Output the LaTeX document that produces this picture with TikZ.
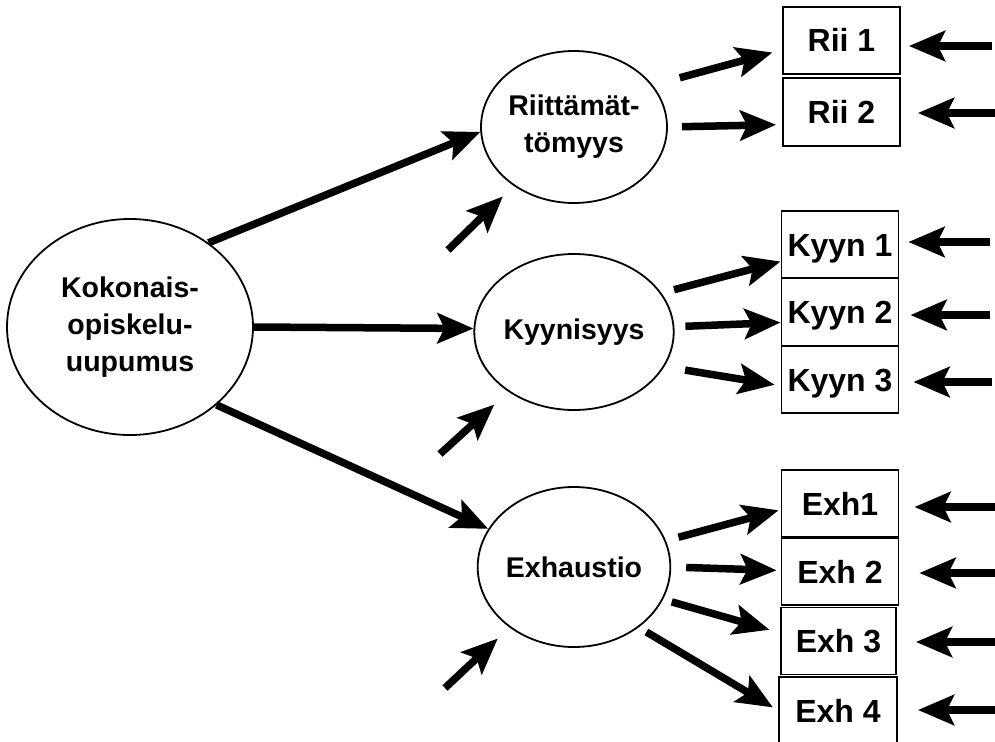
\documentclass[tikz,border=0pt]{standalone}
\usepackage{fontspec}
\setmainfont{Liberation Sans}
\usetikzlibrary{shapes.geometric,arrows.meta}

\tikzset{
  latent/.style={ellipse, draw, line width=1.8pt, inner sep=0pt, align=center,
    font=\bfseries\fontsize{28.5}{37}\selectfont},
  indicator/.style={rectangle, draw, line width=1.8pt, inner sep=0pt,
    minimum width=117pt, minimum height=67pt, text height=23pt, text depth=0pt,
    font=\bfseries\fontsize{32}{36}\selectfont},
  link/.style={line width=7.5pt, arrows={-Stealth[length=36pt 0, width=30pt 0, inset=7pt 0]}},
}

\begin{document}
\begin{tikzpicture}[x=1pt,y=-1pt]
  \useasboundingbox (0,0) rectangle (995,741);

  % latent factors
  \node[latent, minimum width=246pt, minimum height=216pt] (tot) at (130,327) {Kokonais-\\opiskelu-\\uupumus};
  \node[latent, minimum width=186pt, minimum height=152pt] (rii) at (574,127) {Riittämät-\\tömyys};
  \node[latent, minimum width=186pt, minimum height=156pt] (kyy) at (574,332) {Kyynisyys};
  \node[latent, minimum width=186pt, minimum height=160pt] (exh) at (574,567) {Exhaustio};

  % observed indicators
  \node[indicator] (rii1) at (841.5,40.5) {Rii 1};
  \node[indicator, minimum height=68pt] (rii2) at (841.5,112) {Rii 2};
  \node[indicator] (ky1) at (840,244.5) {Kyyn 1};
  \node[indicator] (ky2) at (840,312) {Kyyn 2};
  \node[indicator] (ky3) at (840,379.5) {Kyyn 3};
  \node[indicator] (ex1) at (840,503.5) {Exh1};
  \node[indicator] (ex2) at (840,571.5) {Exh 2};
  \node[indicator, minimum width=115pt] (ex3) at (838.5,641) {Exh 3};
  \node[indicator, minimum width=118pt] (ex4) at (838,710.5) {Exh 4};

  % second-order loadings
  \draw[link] (tot.47) -- (rii.183);
  \draw[link] (tot.0) -- (kyy.178);
  \draw[link] (tot.-42) -- (exh.156);

  % first-order loadings
  \draw[link, shorten <=28pt, shorten >=10pt] (rii.28) -- (rii1.189);
  \draw[link, shorten <=14pt, shorten >=6pt] (rii.0) -- (rii2.192);
  \draw[link, shorten <=13pt] (kyy.24) -- (ky1.196);
  \draw[link, shorten <=11pt] (kyy.3) -- (ky2.190.6);
  \draw[link, shorten <=21pt, shorten >=6pt] (kyy.-21) -- (ky3.186);
  \draw[link, shorten <=13pt, shorten >=2pt] (exh.16) -- (ex1.186);
  \draw[link, shorten <=15pt, shorten >=4pt] (exh.0) -- (ex2.179);
  \draw[link, shorten <=9pt, shorten >=11pt] (exh.-20) -- (ex3.172.5);
  \draw[link, shorten <=9pt, shorten >=6pt] (exh.-43) -- (ex4.180);

  % disturbances of the first-order factors
  \coordinate (d1) at (448,250);
  \coordinate (d2) at (440,454);
  \coordinate (d3) at (445,688);
  \draw[link, shorten >=15pt] (d1) -- (rii);
  \draw[link, shorten >=19pt] (d2) -- (kyy);
  \draw[link, shorten >=16pt] (d3) -- (exh);

  % measurement errors
  \coordinate (u1) at (992,46);
  \coordinate (u2) at (995,113);
  \coordinate (u3) at (990,242);
  \coordinate (u4) at (990,315);
  \coordinate (u5) at (992,382);
  \coordinate (u6) at (995,507);
  \coordinate (u7) at (995,573);
  \coordinate (u8) at (995,642);
  \coordinate (u9) at (995,710);
  \draw[link, shorten >=8pt] (u1) -- (u1 -| rii1.east);
  \draw[link, shorten >=17pt] (u2) -- (u2 -| rii2.east);
  \draw[link, shorten >=9pt] (u3) -- (u3 -| ky1.east);
  \draw[link, shorten >=11pt] (u4) -- (u4 -| ky2.east);
  \draw[link, shorten >=14pt] (u5) -- (u5 -| ky3.east);
  \draw[link, shorten >=15pt] (u6) -- (u6 -| ex1.east);
  \draw[link, shorten >=20pt] (u7) -- (u7 -| ex2.east);
  \draw[link, shorten >=19pt] (u8) -- (u8 -| ex3.east);
  \draw[link, shorten >=20pt] (u9) -- (u9 -| ex4.east);
\end{tikzpicture}
\end{document}
